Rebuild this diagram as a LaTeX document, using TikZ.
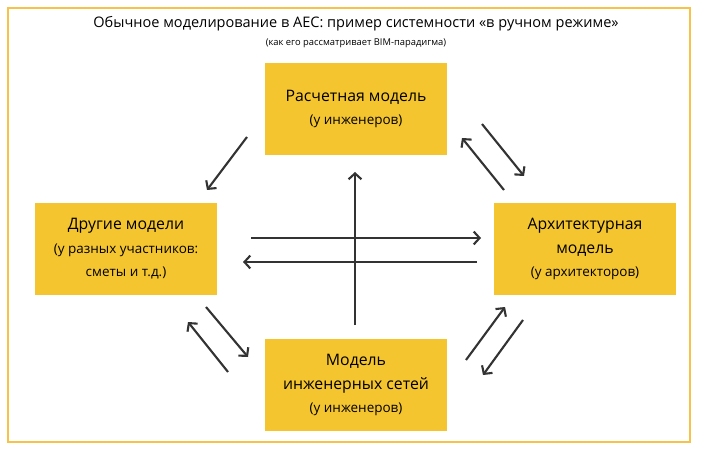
\documentclass[tikz,border=0pt]{standalone}
\usepackage{fontspec}
\setmainfont{Open Sans}
\usetikzlibrary{arrows.meta}
\definecolor{boxyellow}{HTML}{F5C530}
\definecolor{frameorange}{HTML}{F7C24A}
\definecolor{arrowgray}{HTML}{333333}
\begin{document}
\begin{tikzpicture}[x=0.03cm, y=-0.03cm,
  modelbox/.style={fill=boxyellow, draw=none, minimum width=5.46cm, minimum height=2.76cm, align=center, font=\fontsize{13.5}{20}\selectfont},
  flow/.style={draw=arrowgray, line width=1.8pt, -{Straight Barb[length=5pt, width=11pt]}}
]
\useasboundingbox (0,0) rectangle (716,450);

% frame
\draw[frameorange, line width=1.3pt] (8,8) rectangle (690,442);

% title
\node (title) at (356,24) {\fontsize{12.4}{15}\selectfont Обычное моделирование в АЕС: пример системности «в ручном режиме»};
\node (subtitle) at (356,43) {\fontsize{8}{10}\selectfont (как его рассматривает BIM-парадигма)};

% models
\node[modelbox] (calc)  at (356,109) {Расчетная модель\\{\fontsize{11.5}{18}\selectfont(у инженеров)}};
\node[modelbox] (other) at (126,249) {Другие модели\\{\fontsize{11.5}{18}\selectfont(у разных участников:}\\{\fontsize{11.5}{18}\selectfont сметы и т.д.)}};
\node[modelbox] (arch)  at (585,249) {Архитектурная\\модель\\{\fontsize{11.5}{18}\selectfont(у архитекторов)}};
\node[modelbox] (mep)   at (356,385) {Модель\\инженерных сетей\\{\fontsize{11.5}{18}\selectfont(у инженеров)}};

% arrow ends
\coordinate (a1) at (247,137); \coordinate (b1) at (207,190);
\coordinate (a2) at (504,190); \coordinate (b2) at (462,138);
\coordinate (a3) at (482,124); \coordinate (b3) at (524,176);
\coordinate (a4) at (355,325); \coordinate (b4) at (355,172);
\coordinate (a5) at (251,238); \coordinate (b5) at (481,238);
\coordinate (a6) at (477,262); \coordinate (b6) at (243,262);
\coordinate (a7) at (228,372); \coordinate (b7) at (188,322);
\coordinate (a8) at (206,307); \coordinate (b8) at (248,357);
\coordinate (a9) at (466,360); \coordinate (b9) at (505,307);
\coordinate (a10) at (523,320); \coordinate (b10) at (483,375);

\foreach \i in {1,...,10}
  \draw[flow] (a\i) -- (b\i);

\end{tikzpicture}
\end{document}
